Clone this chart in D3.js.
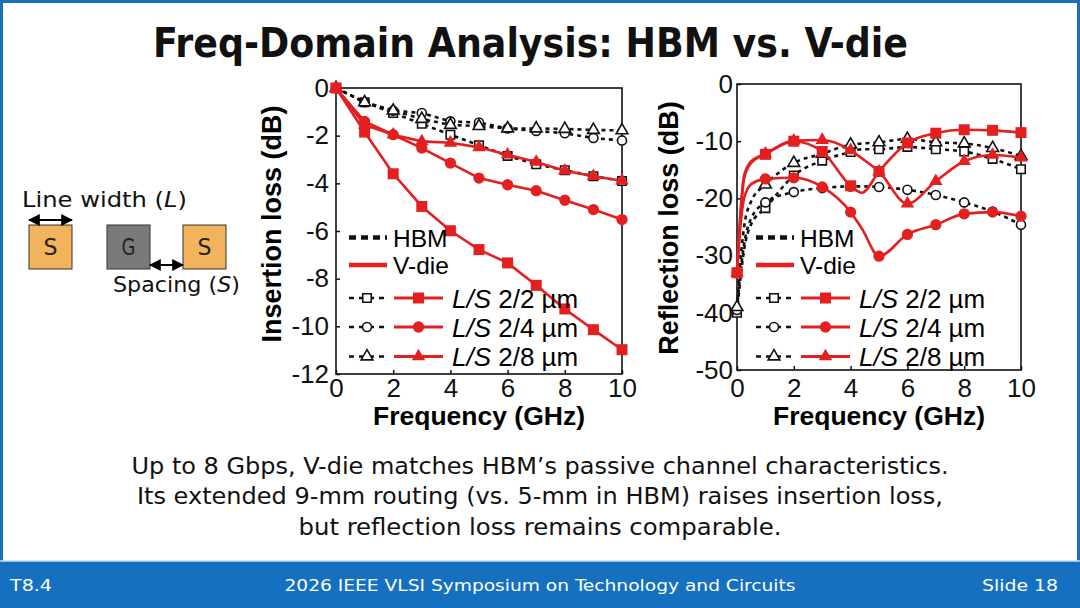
<!DOCTYPE html>
<html>
<head>
<meta charset="utf-8">
<script src="https://cdn.jsdelivr.net/npm/d3@7"></script>
<style>
  body { margin: 0; background: #fff; }
  svg text { font-family: "Liberation Sans", Arial, sans-serif; }
  .slideText { font-family: "DejaVu Sans Condensed", "DejaVu Sans", sans-serif; font-stretch: condensed; }
</style>
</head>
<body>
<svg id="slide" width="1080" height="608"></svg>
<script>
// ---- data ----
const freqTicks = [0, 2, 4, 6, 8, 10];
const seriesLabels = ['2/2', '2/4', '2/8'];

// insertion loss (dB), markers at every GHz
const ilFreq = [0, 1, 2, 3, 4, 5, 6, 7, 8, 9, 10];
const ilHbm22 = [0, -0.6, -1.05, -1.5, -1.96, -2.4, -2.85, -3.2, -3.45, -3.7, -3.9];
const ilHbm24 = [0, -0.6, -0.95, -1.05, -1.4, -1.45, -1.7, -1.8, -1.9, -2.1, -2.2];
const ilHbm28 = [0, -0.6, -0.95, -1.3, -1.55, -1.6, -1.7, -1.7, -1.72, -1.76, -1.78];
const ilVdie22 = [0, -1.85, -3.6, -4.97, -5.99, -6.78, -7.34, -8.28, -9.27, -10.14, -10.98];
const ilVdie24 = [0, -1.4, -1.96, -2.52, -3.15, -3.78, -4.06, -4.31, -4.71, -5.1, -5.52];
const ilVdie28 = [0, -1.55, -1.96, -2.24, -2.3, -2.49, -2.8, -3.1, -3.47, -3.7, -3.89];

// reflection loss (dB), smooth curves; markers only at whole GHz
const rlFreq = [0, 0.1, 0.25, 0.5, 1, 2, 3, 4, 4.4, 5, 6, 7, 8, 9, 10];
const rlHbm22 = [-40, -35, -29, -24.5, -21.7, -16, -13.4, -11.9, -11.4, -11.4, -11, -11.4, -11.8, -13.1, -14.9];
const rlHbm24 = [-39.5, -34, -28, -23.5, -20.7, -18.9, -18.2, -17.9, -17.9, -18, -18.5, -19.4, -20.7, -22.3, -24.6];
const rlHbm28 = [-39, -32, -25, -20.5, -17.6, -13.8, -12.2, -10.6, -10.4, -10.2, -9.6, -10.2, -10.4, -11.2, -12.6];
const rlVdie22 = [-33, -25, -16.5, -13.8, -12.3, -10, -11.8, -17.8, -19, -15.3, -10.3, -8.6, -8.0, -8.1, -8.5];
const rlVdie24 = [-33, -26, -20, -17.5, -16.6, -16.4, -18, -22.4, -25.3, -30.1, -26.3, -24.6, -22.7, -22.4, -23.1];
const rlVdie28 = [-33, -24, -16, -13.5, -12.2, -9.9, -9.8, -11.6, -13, -15.3, -20.9, -17, -13.5, -12.4, -12.85];

const captionLines = [
  'Up to 8 Gbps, V-die matches HBM\u2019s passive channel characteristics.',
  'Its extended 9-mm routing (vs. 5-mm in HBM) raises insertion loss,',
  'but reflection loss remains comparable.'
];

const red = '#e41f1f';
const blue = '#1570c0';
const symbols = [d3.symbolSquare, d3.symbolCircle, d3.symbolTriangle];
const filledSize = [121, 100, 78];
const openSize = [72, 64, 60];

const svg = d3.select('#slide');

// slide frame + footer
svg.append('rect')
  .attr('x', 1.5).attr('y', 1.5).attr('width', 1077).attr('height', 605)
  .attr('fill', '#fff').attr('stroke', '#1a6eb8').attr('stroke-width', 3);
svg.append('rect')
  .attr('x', 0).attr('y', 561).attr('width', 1080).attr('height', 47)
  .attr('fill', blue);
svg.append('line')
  .attr('x1', 0).attr('x2', 1080).attr('y1', 561).attr('y2', 561)
  .attr('stroke', '#bfe0f5').attr('stroke-width', 1.5);

function slideText(str, x, y, size, len, opts) {
  opts = opts || {};
  return svg.append('text')
    .attr('class', 'slideText')
    .attr('x', x).attr('y', y)
    .attr('text-anchor', opts.anchor || 'start')
    .attr('font-size', size)
    .attr('font-weight', opts.bold ? 'bold' : 'normal')
    .attr('fill', opts.fill || '#111')
    .attr('textLength', len)
    .attr('lengthAdjust', 'spacingAndGlyphs')
    .text(str);
}

// title
slideText('Freq-Domain Analysis: HBM vs. V-die', 530.5, 57, 40, 755, {anchor: 'middle', bold: true});

// caption
const capY = [474, 504, 535];
const capLen = [817, 806, 483];
captionLines.forEach(function(line, i) {
  slideText(line, 540, capY[i], 23, capLen[i], {anchor: 'middle'});
});

// footer texts
slideText('T8.4', 10, 591, 16, 42, {fill: '#fff'});
slideText('2026 IEEE VLSI Symposium on Technology and Circuits', 540, 591, 16, 511, {anchor: 'middle', fill: '#fff'});
slideText('Slide 18', 1058, 591, 16, 76, {anchor: 'end', fill: '#fff'});

// ---- line width / spacing sketch ----
const defs = svg.append('defs');
defs.append('marker')
  .attr('id', 'arrow')
  .attr('viewBox', '0 0 10 10')
  .attr('refX', 9).attr('refY', 5)
  .attr('markerWidth', 6).attr('markerHeight', 6)
  .attr('orient', 'auto-start-reverse')
  .append('path').attr('d', 'M0,0 L10,5 L0,10 z').attr('fill', '#000');

const boxes = [
  {x: 29, label: 'S', fill: '#f2b35d'},
  {x: 107, label: 'G', fill: '#7a7a7a'},
  {x: 183, label: 'S', fill: '#f2b35d'}
];
boxes.forEach(function(b) {
  svg.append('rect').attr('x', b.x).attr('y', 225).attr('width', 43).attr('height', 44)
    .attr('fill', b.fill).attr('stroke', '#333').attr('stroke-width', 1);
  slideText(b.label, b.x + 21.5, 255, 23, 14, {anchor: 'middle', fill: '#222'});
});
svg.append('line').attr('x1', 29).attr('x2', 72).attr('y1', 220).attr('y2', 220)
  .attr('stroke', '#000').attr('stroke-width', 2)
  .attr('marker-start', 'url(#arrow)').attr('marker-end', 'url(#arrow)');
svg.append('line').attr('x1', 150).attr('x2', 183).attr('y1', 265).attr('y2', 265)
  .attr('stroke', '#000').attr('stroke-width', 2)
  .attr('marker-start', 'url(#arrow)').attr('marker-end', 'url(#arrow)');

let t = slideText('', 22, 207, 21, 165);
t.append('tspan').text('Line width (');
t.append('tspan').attr('font-style', 'italic').text('L');
t.append('tspan').text(')');
t = slideText('', 113, 292, 21, 127);
t.append('tspan').text('Spacing (');
t.append('tspan').attr('font-style', 'italic').text('S');
t.append('tspan').text(')');

// ---- chart builder ----
function drawChart(opt) {
  const x = d3.scaleLinear().domain([0, 10]).range([opt.left, opt.right]);
  const y = d3.scaleLinear().domain(opt.yDomain).range([opt.bottom, opt.top]);
  const g = svg.append('g');

  const xAxis = g.append('g')
    .attr('transform', 'translate(0,' + opt.bottom + ')')
    .call(d3.axisBottom(x).tickValues(freqTicks).tickSize(-4).tickSizeOuter(0).tickPadding(opt.xPad));
  const yAxis = g.append('g')
    .attr('transform', 'translate(' + opt.left + ',0)')
    .call(d3.axisLeft(y).tickValues(opt.yTicks).tickSize(-4).tickSizeOuter(0).tickPadding(opt.yPad)
      .tickFormat(function(d) { return d === 0 ? '0' : String(d).replace('\u2212', '-'); }));
  [xAxis, yAxis].forEach(function(a) {
    a.select('.domain').remove();
    a.attr('font-family', null).attr('font-size', null);
    a.selectAll('text').attr('font-size', 26).attr('fill', '#111');
    a.selectAll('line').attr('stroke', '#111').attr('stroke-width', 1.5);
  });

  g.append('rect')
    .attr('x', opt.left).attr('y', opt.top)
    .attr('width', opt.right - opt.left).attr('height', opt.bottom - opt.top)
    .attr('fill', 'none').attr('stroke', '#111').attr('stroke-width', 1.6);

  g.append('text')
    .attr('x', (opt.left + opt.right) / 2).attr('y', 425)
    .attr('text-anchor', 'middle').attr('font-size', 26.5).attr('font-weight', 'bold')
    .text('Frequency (GHz)');
  g.append('text')
    .attr('transform', 'translate(' + opt.yTitleX + ',' + opt.yTitleY + ') rotate(-90)')
    .attr('text-anchor', 'middle').attr('font-size', 27).attr('font-weight', 'bold')
    .text(opt.yTitle);

  const line = d3.line()
    .x(function(d) { return x(d[0]); })
    .y(function(d) { return y(d[1]); })
    .curve(opt.curve);

  function pts(vals) {
    return opt.freq.map(function(f, i) { return [f, vals[i]]; });
  }

  // HBM first (dashed, open markers), V-die on top
  opt.hbm.forEach(function(vals, k) {
    const p = pts(vals);
    g.append('path').attr('d', line(p)).attr('fill', 'none')
      .attr('stroke', '#111').attr('stroke-width', 2.6).attr('stroke-dasharray', '4,4');
    g.selectAll(null).data(p.filter(function(d) { return Number.isInteger(d[0]); }))
      .enter().append('path')
      .attr('transform', function(d) { return 'translate(' + x(d[0]) + ',' + y(d[1]) + ')'; })
      .attr('d', d3.symbol().type(symbols[k]).size(openSize[k]))
      .attr('fill', '#fff').attr('stroke', '#111').attr('stroke-width', 1.6);
  });
  opt.vdie.forEach(function(vals, k) {
    const p = pts(vals);
    g.append('path').attr('d', line(p)).attr('fill', 'none')
      .attr('stroke', red).attr('stroke-width', 2.6);
    g.selectAll(null).data(p.filter(function(d) { return Number.isInteger(d[0]); }))
      .enter().append('path')
      .attr('transform', function(d) { return 'translate(' + x(d[0]) + ',' + y(d[1]) + ')'; })
      .attr('d', d3.symbol().type(symbols[k]).size(filledSize[k]))
      .attr('fill', red);
  });

  // legend
  const lx = opt.legendX;
  const rows = [237.5, 265, 298, 327, 356.5];
  g.append('line').attr('x1', lx).attr('x2', lx + 38).attr('y1', rows[0]).attr('y2', rows[0])
    .attr('stroke', '#111').attr('stroke-width', 4.5).attr('stroke-dasharray', '7,5');
  g.append('text').attr('x', lx + 44).attr('y', rows[0] + 9).attr('font-size', 24.5).text('HBM');
  g.append('line').attr('x1', lx).attr('x2', lx + 38).attr('y1', rows[1]).attr('y2', rows[1])
    .attr('stroke', red).attr('stroke-width', 4.5);
  g.append('text').attr('x', lx + 44).attr('y', rows[1] + 9).attr('font-size', 24.5).text('V-die');
  seriesLabels.forEach(function(lab, k) {
    const ry = rows[k + 2];
    g.append('line').attr('x1', lx).attr('x2', lx + 36).attr('y1', ry).attr('y2', ry)
      .attr('stroke', '#111').attr('stroke-width', 2.6).attr('stroke-dasharray', '5,5');
    g.append('path').attr('transform', 'translate(' + (lx + 18) + ',' + ry + ')')
      .attr('d', d3.symbol().type(symbols[k]).size(openSize[k]))
      .attr('fill', '#fff').attr('stroke', '#111').attr('stroke-width', 1.6);
    g.append('line').attr('x1', lx + 45).attr('x2', lx + 94).attr('y1', ry).attr('y2', ry)
      .attr('stroke', red).attr('stroke-width', 2.8);
    g.append('path').attr('transform', 'translate(' + (lx + 69.5) + ',' + ry + ')')
      .attr('d', d3.symbol().type(symbols[k]).size(filledSize[k]))
      .attr('fill', red);
    const tx = g.append('text').attr('x', lx + 103).attr('y', ry + 9.5).attr('font-size', 26);
    tx.append('tspan').attr('font-style', 'italic').text('L/S');
    tx.append('tspan').text(' ' + lab + ' \u00b5m');
  });
}

drawChart({
  left: 336, right: 622, top: 88, bottom: 374,
  yDomain: [-12, 0], yTicks: [0, -2, -4, -6, -8, -10, -12],
  xPad: 5, yPad: 7,
  yTitle: 'Insertion loss (dB)', yTitleX: 281, yTitleY: 224,
  freq: ilFreq, curve: d3.curveLinear,
  hbm: [ilHbm22, ilHbm24, ilHbm28],
  vdie: [ilVdie22, ilVdie24, ilVdie28],
  legendX: 349
});

drawChart({
  left: 737, right: 1021, top: 84, bottom: 370,
  yDomain: [-50, 0], yTicks: [0, -10, -20, -30, -40, -50],
  xPad: 9, yPad: 4,
  yTitle: 'Reflection loss (dB)', yTitleX: 678, yTitleY: 228,
  freq: rlFreq, curve: d3.curveMonotoneX,
  hbm: [rlHbm22, rlHbm24, rlHbm28],
  vdie: [rlVdie22, rlVdie24, rlVdie28],
  legendX: 756
});
</script>
</body>
</html>
